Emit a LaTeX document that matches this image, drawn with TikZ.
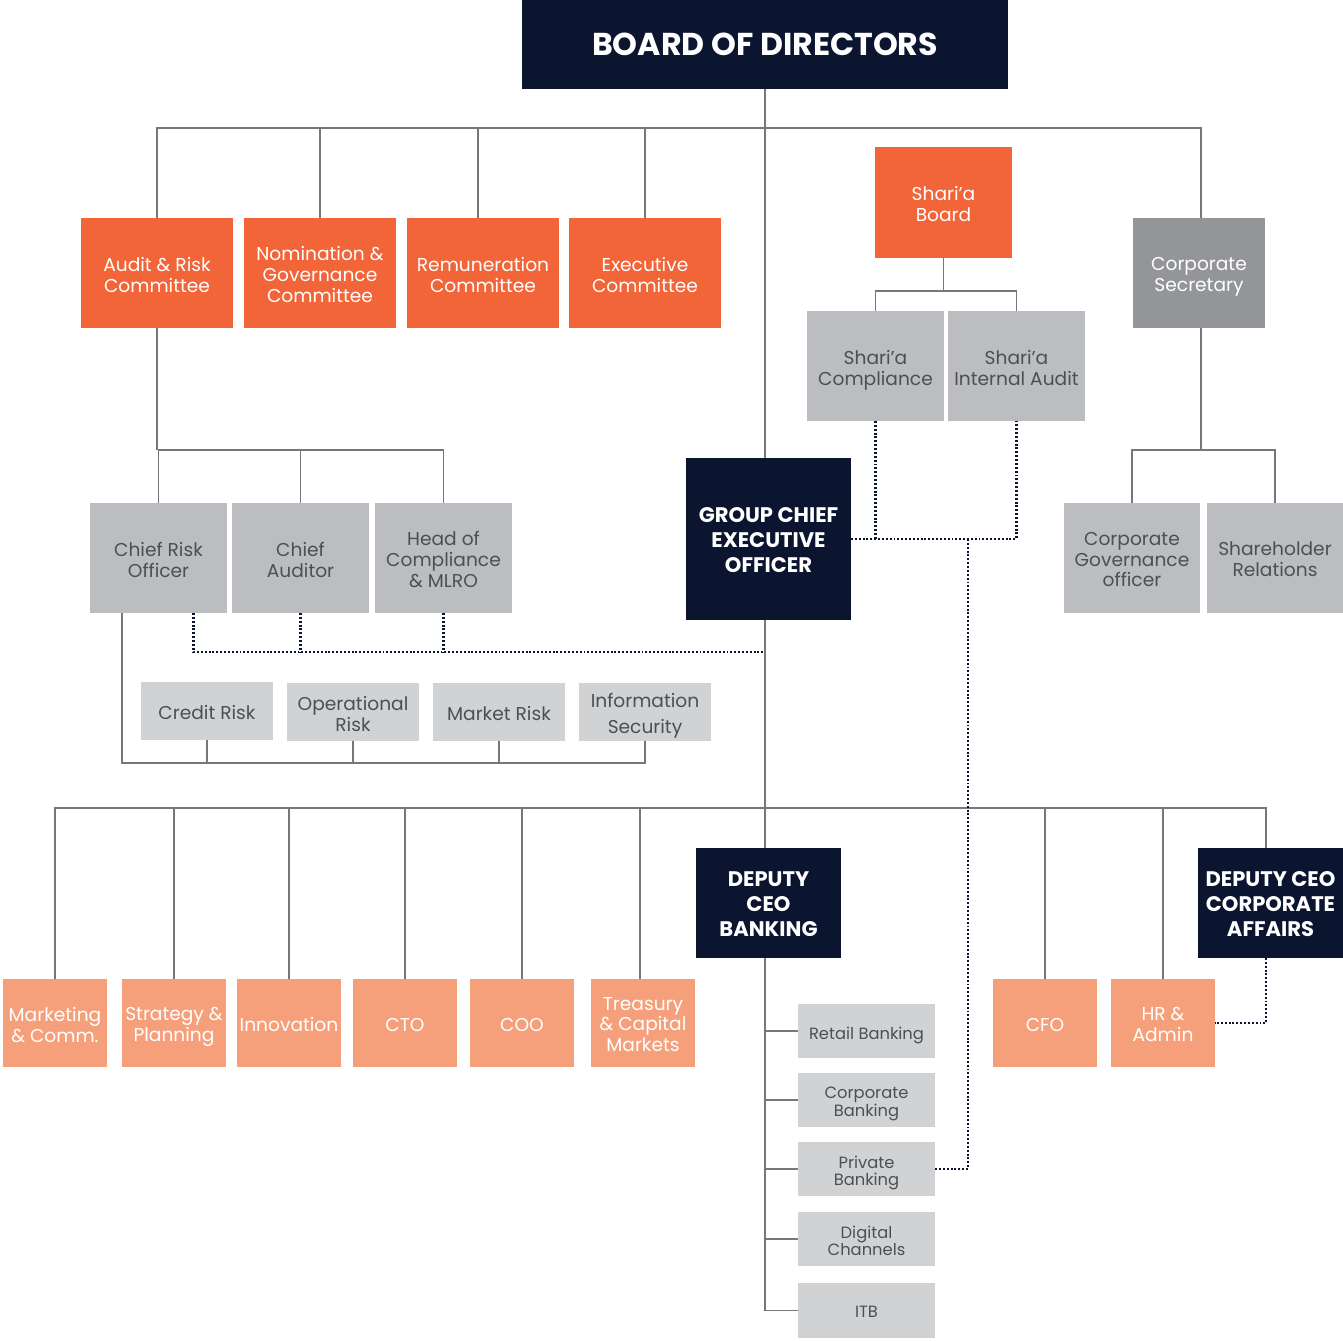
\documentclass[tikz,border=0pt]{standalone}
\usepackage{fontspec}
\setmainfont{Poppins}
\usetikzlibrary{backgrounds,calc}
\definecolor{navy}{HTML}{0B1530}
\definecolor{orng}{HTML}{F26539}
\definecolor{lorng}{HTML}{F5A07B}
\definecolor{dgray}{HTML}{939598}
\definecolor{mgray}{HTML}{BCBDC0}
\definecolor{lgray}{HTML}{D1D2D4}
\definecolor{tgray}{HTML}{4E4F51}
\definecolor{lcol}{HTML}{777777}
\tikzset{
  box/.style={inner sep=0pt, outer sep=0pt, align=center},
  navybox/.style={box, fill=navy, text=white, font=\bfseries\fontsize{12}{14.2}\selectfont},
  orngbox/.style={box, fill=orng, text=white, font=\fontsize{10.6}{11.9}\selectfont},
  lorngbox/.style={box, fill=lorng, text=white, font=\fontsize{10.6}{11.9}\selectfont},
  dgraybox/.style={box, fill=dgray, text=white, font=\fontsize{10.6}{11.9}\selectfont},
  mgraybox/.style={box, fill=mgray, text=tgray, font=\fontsize{10.6}{11.9}\selectfont},
  lgraybox/.style={box, fill=lgray, text=tgray, font=\fontsize{10.6}{11.9}\selectfont},
  smallbox/.style={box, fill=lgray, text=tgray, font=\fontsize{9.3}{10.2}\selectfont},
  conn/.style={draw=lcol, line width=0.9pt},
  dotl/.style={draw=navy, line width=1.2pt, dash pattern=on 1.1pt off 1.1pt}
}
% box shape (named #1) and its text (named #1-t)
\newcommand\orgbox[7]{%
  \node[#6, minimum width={(#4-#2)*0.02cm}, minimum height={(#5-#3)*0.02cm}] (#1) at ({(#2+#4)/2},{(#3+#5)/2}) {};
  \node[#6, fill=none, minimum width=0pt, minimum height=0pt] (#1-t) at ($(#1.center)+(0,4)$) {#7\vphantom{g}};}
\begin{document}
\begin{tikzpicture}[x=0.02cm, y=-0.02cm]
\useasboundingbox (0,0) rectangle (1343,1341);
% top
\node[box, fill=navy, text=white, font=\bfseries\fontsize{18}{21}\selectfont, minimum width={486*0.02cm}, minimum height={89*0.02cm}] (board) at (765,44.5) {BOARD OF DIRECTORS};
\orgbox{audit}{81}{218}{233}{328}{orngbox}{Audit \& Risk\\Committee}
\orgbox{nom}{244}{218}{396}{328}{orngbox}{Nomination \&\\Governance\\Committee}
\orgbox{rem}{407}{218}{559}{328}{orngbox}{Remuneration\\Committee}
\orgbox{exec}{569}{218}{721}{328}{orngbox}{Executive\\Committee}
\orgbox{sb}{875}{147}{1012}{258}{orngbox}{Shari’a\\Board}
\orgbox{cosec}{1133}{218}{1265}{328}{dgraybox}{Corporate\\Secretary}
\orgbox{sc}{807}{311}{944}{421}{mgraybox}{Shari’a\\Compliance}
\orgbox{sia}{948}{311}{1085}{421}{mgraybox}{Shari’a\\Internal Audit}
% middle
\orgbox{cro}{90}{503}{227}{613}{mgraybox}{Chief Risk\\Officer}
\orgbox{caud}{232}{503}{369}{613}{mgraybox}{Chief\\Auditor}
\orgbox{hoc}{375}{503}{512}{613}{mgraybox}{Head of\\Compliance\\\& MLRO}
\orgbox{gceo}{686}{458}{851}{620}{navybox}{GROUP CHIEF\\EXECUTIVE\\OFFICER}
\orgbox{cgo}{1064}{503}{1200}{613}{mgraybox}{Corporate\\Governance\\officer}
\orgbox{shr}{1207}{503}{1343}{613}{mgraybox}{Shareholder\\Relations}
\orgbox{credit}{141}{682}{273}{740}{lgraybox}{Credit Risk}
\orgbox{oprisk}{287}{683}{419}{741}{lgraybox}{Operational\\Risk}
\orgbox{mktrisk}{433}{683}{565}{741}{lgraybox}{Market Risk}
\orgbox{infosec}{579}{683}{711}{741}{lgraybox, font=\fontsize{10.6}{14.7}\selectfont}{Information\\Security}
% bottom
\orgbox{mkt}{3}{979}{107}{1067}{lorngbox}{Marketing\\\& Comm.}
\orgbox{strat}{122}{979}{226}{1067}{lorngbox}{Strategy \&\\Planning}
\orgbox{innov}{237}{979}{341}{1067}{lorngbox}{Innovation}
\orgbox{cto}{353}{979}{457}{1067}{lorngbox}{CTO}
\orgbox{coo}{470}{979}{574}{1067}{lorngbox}{COO}
\orgbox{treas}{591}{979}{695}{1067}{lorngbox}{Treasury\\\& Capital\\Markets}
\orgbox{cfo}{993}{979}{1097}{1067}{lorngbox}{CFO}
\orgbox{hr}{1111}{979}{1215}{1067}{lorngbox}{HR \&\\Admin}
\orgbox{dceob}{696}{848}{841}{958}{navybox}{DEPUTY\\CEO\\BANKING}
\orgbox{dceoca}{1198}{848}{1343}{958}{navybox}{DEPUTY CEO\\CORPORATE\\AFFAIRS}
\orgbox{retail}{798}{1004}{935}{1058}{smallbox}{Retail Banking}
\orgbox{corpb}{798}{1073}{935}{1127}{smallbox}{Corporate\\Banking}
\orgbox{privb}{798}{1142}{935}{1196}{smallbox}{Private\\Banking}
\orgbox{digit}{798}{1212}{935}{1266}{smallbox}{Digital\\Channels}
\orgbox{itb}{798}{1283}{935}{1338}{smallbox}{ITB}
% connector junctions
\coordinate (btop) at (765,128);
\coordinate (baud) at (158,450);
\coordinate (bsec) at (1201,450);
\coordinate (bsha) at (943,291);
\coordinate (brisk) at (122,763);
\coordinate (bbot) at (765,808);
\coordinate (djoin) at (765,652);
\coordinate (sdrop) at (968,539);
\begin{pgfonlayer}{background}
% main spine
\draw[conn, line width=1.2pt] (board.south) -- (board.south |- dceob.north);
% board bus
\draw[conn] (audit.north) -- (audit.north |- btop) -- (btop -| bsec) -- (cosec.north -| bsec);
\draw[conn] (nom.north) -- (nom.north |- btop);
\draw[conn] ([xshift=-0.1cm]rem.north) -- ([xshift=-0.1cm]rem.north |- btop);
\draw[conn] (exec.north) -- (exec.north |- btop);
% audit committee to officers
\draw[conn] (audit.south) -- (audit.south |- baud);
\draw[conn] (cro.north) -- (cro.north |- baud) -- (hoc.north |- baud) -- (hoc.north);
\draw[conn] (caud.north) -- (caud.north |- baud);
% shari'a
\draw[conn] (sb.south) -- (sb.south |- bsha);
\draw[conn] (sc.north) -- (sc.north |- bsha) -- (sia.north |- bsha) -- (sia.north);
% corporate secretary
\draw[conn] (cosec.south -| bsec) -- (bsec);
\draw[conn] (cgo.north) -- (cgo.north |- bsec) -- (shr.north |- bsec) -- (shr.north);
% risk functions
\draw[conn] (cro.south -| brisk) -- (brisk) -- (infosec.south |- brisk) -- (infosec.south);
\draw[conn] (credit.south) -- (credit.south |- brisk);
\draw[conn] (oprisk.south) -- (oprisk.south |- brisk);
\draw[conn] (mktrisk.south) -- (mktrisk.south |- brisk);
% bottom bus
\draw[conn] (mkt.north) -- (mkt.north |- bbot) -- ([xshift=-0.09cm]dceoca.north |- bbot) -- ([xshift=-0.09cm]dceoca.north);
\draw[conn] (strat.north) -- (strat.north |- bbot);
\draw[conn] (innov.north) -- (innov.north |- bbot);
\draw[conn] (cto.north) -- (cto.north |- bbot);
\draw[conn] (coo.north) -- (coo.north |- bbot);
\draw[conn] ([xshift=-0.06cm]treas.north) -- ([xshift=-0.06cm]treas.north |- bbot);
\draw[conn] (cfo.north) -- (cfo.north |- bbot);
\draw[conn] (hr.north) -- (hr.north |- bbot);
% banking
\draw[conn] (board.south |- dceob.south) -- (board.south |- itb.west) -- (itb.west);
\draw[conn] (retail.west) -- (retail.west -| board.south);
\draw[conn] (corpb.west) -- (corpb.west -| board.south);
\draw[conn] (privb.west) -- (privb.west -| board.south);
\draw[conn] (digit.west) -- (digit.west -| board.south);
% dotted
\draw[dotl] ($(cro.south)+(35,0)$) |- (djoin);
\draw[dotl] (caud.south) -- (caud.south |- djoin);
\draw[dotl] (hoc.south) -- (hoc.south |- djoin);
\draw[dotl] (gceo.east) -| (sia.south);
\draw[dotl] (sc.south) -- (sc.south |- gceo.east);
\draw[dotl] (sdrop) |- (privb.east);
\draw[dotl] ([xshift=-0.09cm]dceoca.south) |- (hr.east);
\end{pgfonlayer}
\end{tikzpicture}
\end{document}
